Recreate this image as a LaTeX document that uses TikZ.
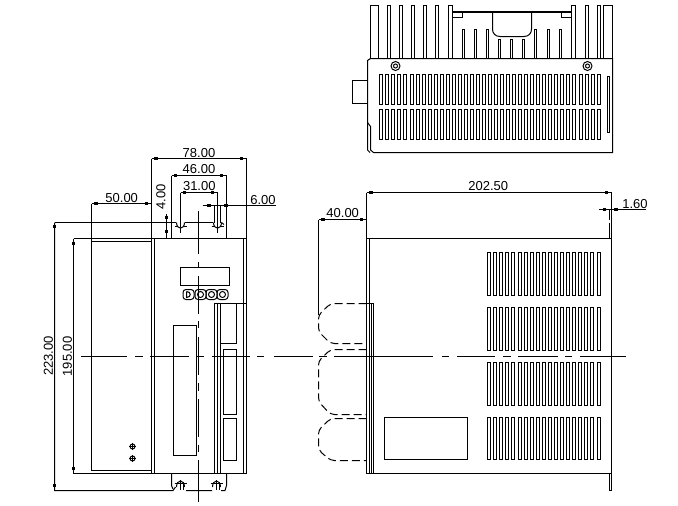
\documentclass[tikz,border=0pt]{standalone}
\usepackage{fontspec}
\setmainfont{Liberation Sans}
\newcommand{\dimtickmark}[2]{\fill (#1-1.9,#2-1.5) rectangle (#1+1.9,#2+1.5);}
\newcommand{\screwtop}[1]{%
  \draw (#1-4,222.5) .. controls (#1-4,230) and (#1+4,230) .. (#1+4,222.5);
  \draw (#1-6,226.5) -- (#1-3,226.5) (#1+3,226.5) -- (#1+6,226.5);
  \draw (#1,222.5) -- (#1,232.5);}
\newcommand{\screwbot}[1]{%
  \draw (#1-4,487) .. controls (#1-4,479) and (#1+4,479) .. (#1+4,487);
  \draw (#1-6,483.5) -- (#1+6,483.5);
  \draw (#1,480) -- (#1,490) (#1+3,482) -- (#1+3,490);}
\newcommand{\bolthead}[2]{\draw (#1,#2) circle[radius=4.5] (#1,#2) circle[radius=2];}
\tikzset{
  base/.style={line width=1pt,line cap=butt,line join=miter},
  label/.style={font=\fontsize{13}{13}\selectfont,inner sep=0pt,text=black},
  ghost/.style={dash pattern=on 8pt off 4pt,line width=1pt,rounded corners=4pt},
  heavy/.style={line width=2pt}
}
\begin{document}
\begin{tikzpicture}[x=1pt,y=-1pt,base]
\useasboundingbox (0,0) rectangle (678,506);
\fill[white] (0,0) rectangle (678,506);

%% ---------- top view ----------
\foreach \a/\b in {370.5/378.5,387.5/390.5,399.5/402.5,411.5/414.5,423.5/426.5,435.5/438.5,448.5/452.5,571.5/575.5,585.5/588.5,597.5/600.5,603.5/612.5}
  \draw (\a,58.5) -- (\a,5.5) -- (\b,5.5) -- (\b,58.5);
\draw[heavy] (452.5,12) -- (571.5,12);
\draw (452.5,17.5) -- (462.5,17.5) -- (462.5,13);
\draw (571.5,17.5) -- (561.5,17.5) -- (561.5,13);
\draw (492.5,13) -- (492.5,29) .. controls (492.5,33) and (495,36.5) .. (500,36.5) -- (524,36.5) .. controls (529,36.5) and (531.5,33) .. (531.5,29) -- (531.5,13);
\foreach \a in {462.5,474.5,486.5,534.5,547.5,559.5}
  \draw (\a,58.5) -- (\a,29.5) -- (\a+2,29.5) -- (\a+2,58.5);
\foreach \a in {498.5,510.5,522.5}
  \draw (\a,58.5) -- (\a,39.5) -- (\a+2,39.5) -- (\a+2,58.5);
\draw (370.5,58.5) -- (612.5,58.5) -- (612.5,152.5) -- (373.5,152.5) -- (370.5,150) -- (370.5,126.5) -- (367.5,122.5);
\draw (370.5,58.5) -- (367.5,60.5) -- (367.5,150) -- (370,152.5);
\draw (367.5,80.5) -- (352.5,80.5) -- (352.5,103.5) -- (367.5,103.5);
\bolthead{395.5}{66}
\bolthead{587.5}{66}
\draw (607.5,76.5) rectangle (609.5,132.5);
\foreach \ya/\yb in {74.5/104.5,109.5/139.5}{
  \foreach \i in {0,...,4} \draw ({379.5+6*\i},\ya) rectangle ++(3,\yb-\ya);
  \foreach \i in {0,...,27} \draw ({410.5+6*\i},\ya) rectangle ++(3,\yb-\ya);
  \foreach \i in {0,...,3} \draw ({579.5+6*\i},\ya) rectangle ++(3,\yb-\ya);
}

%% ---------- front view ----------
\draw (91.5,203.5) -- (91.5,470.5) -- (151.5,470.5);
\draw (91.5,241.5) -- (151.5,241.5);
\draw (151.5,158.5) -- (151.5,473.5) -- (246.5,473.5) -- (246.5,158.5);
\draw (73.5,238.5) -- (246.5,238.5);
\draw (154.5,238.5) -- (154.5,473.5);
\draw (243.5,238.5) -- (243.5,473.5);
\draw (180.5,267.5) rectangle (229.5,285.5);
\foreach \a in {188.5,200.5,211.5,222.5}{
  \draw[rounded corners=3pt] (\a-5.5,289.5) rectangle (\a+5.5,299.5);
}
\draw (186.5,291.5) -- (186.5,297.5) .. controls (191.5,297.5) and (191.5,291.5) .. (186.5,291.5);
\foreach \a in {200.5,211.5,222.5}{
  \draw (\a,294.5) circle[radius=3];
}
\draw (173.5,325.5) rectangle (196.5,455.5);
\draw (214.5,473.5) -- (214.5,303.5) -- (246.5,303.5);
\draw (217.5,303.5) -- (217.5,473.5);
\draw (220.5,303.5) -- (220.5,473.5);
\draw (236.5,303.5) -- (236.5,343.5) -- (220.5,343.5);
\draw (223.5,349.5) rectangle (236.5,414.5);
\draw (223.5,418.5) rectangle (236.5,460.5);
\foreach \b in {446.5,458.5}{
  \draw (132.5,\b) circle[radius=2.5];
  \draw (129,\b) -- (136,\b) (132.5,\b-3.5) -- (132.5,\b+3.5);
}
\draw
  (198.5,211) -- (198.5,254) (198.5,262) -- (198.5,268) (198.5,276) -- (198.5,313.5)
  (198.5,321) -- (198.5,328) (198.5,337) -- (198.5,375) (198.5,383) -- (198.5,391)
  (198.5,399) -- (198.5,437) (198.5,445) -- (198.5,452) (198.5,460) -- (198.5,502);
\draw
  (81,356.5) -- (127,356.5) (135,356.5) -- (143,356.5) (150,356.5) -- (189,356.5)
  (197,356.5) -- (204,356.5) (212,356.5) -- (250,356.5) (257,356.5) -- (264,356.5)
  (274,356.5) -- (313,356.5) (319,356.5) -- (327,356.5) (334,356.5) -- (433,356.5)
  (442,356.5) -- (449,356.5) (457,356.5) -- (495,356.5) (503,356.5) -- (511,356.5)
  (518,356.5) -- (558,356.5) (565,356.5) -- (572,356.5) (580,356.5) -- (626,356.5);

%% front-view screws and dimension lines
\screwtop{180.5}
\screwtop{217.5}
\screwbot{180.5}
\screwbot{216.5}
\draw (54.5,222.5) -- (176,222.5) (184.5,222.5) -- (213,222.5);
\draw (221.5,222.5) -- (224,224.5);
\draw (54.5,222.5) -- (54.5,490.5) -- (173,490.5) -- (175.5,487) (186,490.5) -- (212,490.5);
\draw (221,490.5) -- (225,490.5) -- (226.5,485.5) -- (226.5,473.5);
\draw (171.5,473.5) -- (171.5,485.5) -- (173,489);
\draw (73.5,238.5) -- (73.5,473.5) -- (151.5,473.5);
\draw (151.5,158.5) -- (246.5,158.5);
\draw (171.5,175.5) -- (226.5,175.5);
\draw (171.5,175.5) -- (171.5,238.5);
\draw (226.5,175.5) -- (226.5,238.5);
\draw (180.5,192.5) -- (217.5,192.5);
\draw (180.5,192.5) -- (180.5,222.5);
\draw (217.5,192.5) -- (217.5,222.5);
\draw (91.5,203.5) -- (151.5,203.5);
\draw (202.5,205.5) -- (276,205.5);
\draw (214.5,205.5) -- (214.5,222.5) (220.5,205.5) -- (220.5,222.5);
\draw (166.5,214) -- (166.5,238.5);
\foreach \a/\b in {156/158.5,241.5/158.5,175.5/175.5,221.5/175.5,184.5/192.5,212.5/192.5,96/203.5,146.5/203.5,209/205.5,226/205.5,
  166.5/217.5,166.5/231,73.5/243.5,73.5/468.5,54.5/226.5,54.5/485.5}
  {\dimtickmark{\a}{\b}}

%% ---------- side view ----------
\draw (366.5,192.5) -- (611.5,192.5);
\draw (366.5,192.5) -- (366.5,473.5) -- (611.5,473.5);
\draw (611.5,192.5) -- (611.5,490.5) -- (609.5,490.5) -- (609.5,473.5);
\draw (366.5,238.5) -- (611.5,238.5);
\draw (369.5,238.5) -- (369.5,473.5);
\draw (371.5,303.5) -- (371.5,473.5);
\draw (373.5,303.5) -- (373.5,473.5);
\draw (366.5,303.5) -- (373.5,303.5);
\draw (609.5,209.5) -- (609.5,220) (609.5,222.5) -- (609.5,238.5);
\draw (318.5,219.5) -- (366.5,219.5);
\draw (318.5,219.5) -- (318.5,315);
\draw (598.5,209.5) -- (646,209.5);
\draw (384.5,417.5) rectangle (467.5,459.5);
\foreach \ya/\yb in {252.5/295.5,307.5/350.5,362.5/405.5,417.5/459.5}{
  \foreach \i in {0,...,14} \draw ({487.5+round(6.1*\i)},\ya) rectangle ++(3,\yb-\ya);
  \foreach \i in {0,...,3} \draw ({578.5+round(6.2*\i)},\ya) rectangle ++(3,\yb-\ya);
}
\draw[ghost] (366.5,303.5) -- (330.5,303.5) -- (318.5,315) -- (318.5,331.5) -- (330.5,343.5) -- (366.5,343.5);
\draw[ghost] (366.5,349.5) -- (330.5,349.5) -- (318.5,361) -- (318.5,401.5) -- (330.5,414.5) -- (366.5,414.5);
\draw[ghost] (366.5,418.5) -- (330.5,418.5) -- (318.5,430) -- (318.5,450) -- (330.5,460.5) -- (366.5,460.5);
\foreach \a/\b in {371/192.5,606.5/192.5,323/219.5,361.5/219.5,604.5/209.5,616/209.5}
  {\dimtickmark{\a}{\b}}

%% ---------- labels ----------
\node[label] (d78) at (199,153) {78.00};
\node[label] (d46) at (199,169.5) {46.00};
\node[label] (d31) at (199.3,186.5) {31.00};
\node[label] (d50) at (121.7,198) {50.00};
\node[label] (d6) at (263,200.5) {6.00};
\node[label,rotate=90] (d4) at (161,197) {4.00};
\node[label,rotate=90] (d223) at (48.5,356) {223.00};
\node[label,rotate=90] (d195) at (67.5,356.5) {195.00};
\node[label] (d202) at (488.3,186.5) {202.50};
\node[label] (d40) at (342.7,213.5) {40.00};
\node[label] (d160) at (635,204) {1.60};
\end{tikzpicture}
\end{document}
